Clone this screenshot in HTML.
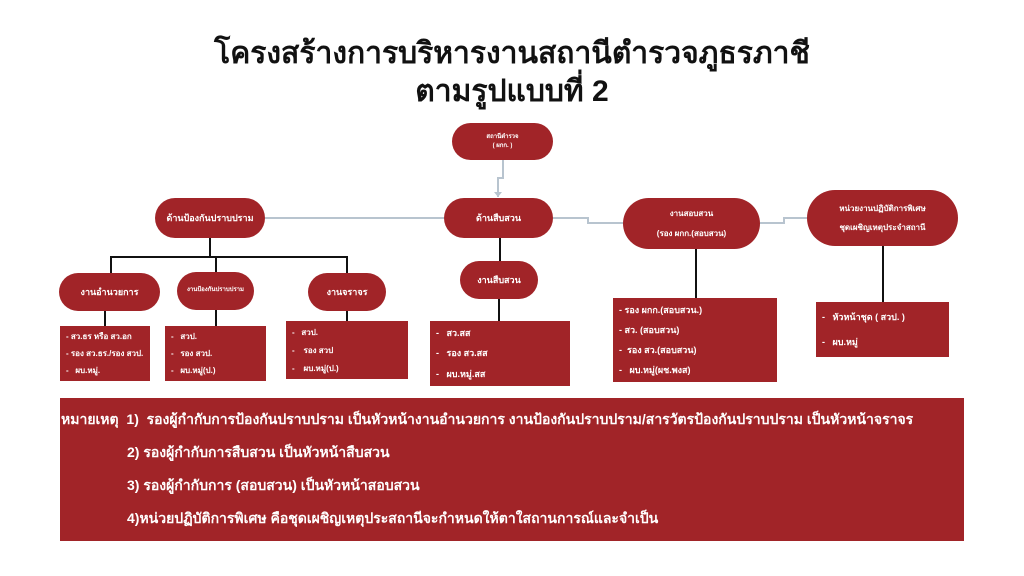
<!DOCTYPE html>
<html><head><meta charset="utf-8"><style>
body{margin:0;width:1024px;height:576px;background:#fff;position:relative;overflow:hidden;font-family:"Liberation Sans","Noto Sans CJK SC",sans-serif;}
.p{position:absolute;background:#a12428;border-radius:22px;color:#fff;font-weight:bold;display:flex;align-items:center;justify-content:center;text-align:center;font-size:9px;line-height:1.6;}
.b{position:absolute;background:#a12428;color:#fff;font-weight:bold;font-size:9px;box-sizing:border-box;padding:2px 6px;display:flex;flex-direction:column;justify-content:space-around;}
.l{position:absolute;background:#111;}
.g{position:absolute;background:#b8c4cf;}
.t{position:absolute;left:0;width:1024px;text-align:center;font-weight:bold;font-size:30px;color:#111;}
</style></head><body>
<div class="t" style="top:30px">โครงสร้างการบริหารงานสถานีตำรวจภูธรภาชี</div>
<div class="t" style="top:68px">ตามรูปแบบที่ 2</div>

<!-- grey connectors -->
<div class="g" style="left:502px;top:160px;width:2px;height:18px"></div>
<div class="g" style="left:497px;top:177px;width:7px;height:2px"></div>
<div class="g" style="left:497px;top:177px;width:2px;height:20px"></div>
<div style="position:absolute;left:494px;top:192px;width:0;height:0;border-left:4px solid transparent;border-right:4px solid transparent;border-top:5px solid #b8c4cf"></div>
<div class="g" style="left:265px;top:217px;width:179px;height:2px"></div>
<div class="g" style="left:553px;top:217px;width:35px;height:2px"></div>
<div class="g" style="left:587px;top:217px;width:2px;height:7px"></div>
<div class="g" style="left:588px;top:222px;width:35px;height:2px"></div>
<div class="g" style="left:760px;top:222px;width:24px;height:2px"></div>
<div class="g" style="left:783px;top:217px;width:2px;height:7px"></div>
<div class="g" style="left:783px;top:217px;width:25px;height:2px"></div>

<!-- black lines -->
<div class="l" style="left:209px;top:238px;width:2px;height:19px"></div>
<div class="l" style="left:110px;top:256px;width:238px;height:2px"></div>
<div class="l" style="left:110px;top:256px;width:2px;height:17px"></div>
<div class="l" style="left:215px;top:256px;width:2px;height:16px"></div>
<div class="l" style="left:346px;top:256px;width:2px;height:17px"></div>
<div class="l" style="left:104px;top:311px;width:2px;height:15px"></div>
<div class="l" style="left:215px;top:310px;width:2px;height:16px"></div>
<div class="l" style="left:346px;top:311px;width:2px;height:10px"></div>
<div class="l" style="left:499px;top:238px;width:2px;height:23px"></div>
<div class="l" style="left:498px;top:299px;width:2px;height:22px"></div>
<div class="l" style="left:695px;top:249px;width:2px;height:49px"></div>
<div class="l" style="left:882px;top:246px;width:2px;height:56px"></div>

<div class="p" style="left:452px;top:123px;width:101px;height:37px;font-size:6px;line-height:1.4">สถานีตำรวจ<br>( ผกก. )</div>
<div class="p" style="left:155px;top:198px;width:110px;height:40px">ด้านป้องกันปราบปราม</div>
<div class="p" style="left:444px;top:198px;width:109px;height:40px">ด้านสืบสวน</div>
<div class="p" style="left:623px;top:198px;width:137px;height:51px;border-radius:26px;font-size:8px;line-height:2.4">งานสอบสวน<br>(รอง ผกก.(สอบสวน)</div>
<div class="p" style="left:807px;top:190px;width:151px;height:56px;border-radius:28px;font-size:8px;line-height:2.4">หน่วยงานปฏิบัติการพิเศษ<br>ชุดเผชิญเหตุประจำสถานี</div>

<div class="p" style="left:59px;top:273px;width:101px;height:38px;border-radius:19px">งานอำนวยการ</div>
<div class="p" style="left:177px;top:272px;width:77px;height:38px;border-radius:19px;font-size:6px">งานป้องกันปราบปราม</div>
<div class="p" style="left:308px;top:273px;width:78px;height:38px;border-radius:19px">งานจราจร</div>
<div class="p" style="left:460px;top:261px;width:78px;height:38px;border-radius:19px">งานสืบสวน</div>

<div class="b" style="left:60px;top:326px;width:90px;height:55px;font-size:8px"><span>- สว.ธร หรือ สว.อก</span><span>- รอง สว.ธร./รอง สวป.</span><span>-&nbsp;&nbsp; ผบ.หมู่.</span></div>
<div class="b" style="left:165px;top:326px;width:101px;height:55px;font-size:8px"><span>-&nbsp;&nbsp; สวป.</span><span>-&nbsp;&nbsp; รอง สวป.</span><span>-&nbsp;&nbsp; ผบ.หมู่(ป.)</span></div>
<div class="b" style="left:286px;top:321px;width:122px;height:58px;font-size:8px"><span>-&nbsp;&nbsp; สวป.</span><span>-&nbsp;&nbsp;&nbsp; รอง สวป</span><span>-&nbsp;&nbsp;&nbsp; ผบ.หมู่(ป.)</span></div>
<div class="b" style="left:430px;top:321px;width:140px;height:65px"><span>-&nbsp;&nbsp; สว.สส</span><span>-&nbsp;&nbsp; รอง สว.สส</span><span>-&nbsp;&nbsp; ผบ.หมู่.สส</span></div>
<div class="b" style="left:613px;top:298px;width:164px;height:84px"><span>- รอง ผกก.(สอบสวน.)</span><span>- สว. (สอบสวน)</span><span>-&nbsp; รอง สว.(สอบสวน)</span><span>-&nbsp;&nbsp; ผบ.หมู่(ผช.พงส)</span></div>
<div class="b" style="left:816px;top:302px;width:133px;height:55px"><span>-&nbsp;&nbsp; หัวหน้าชุด ( สวป. )</span><span>-&nbsp;&nbsp; ผบ.หมู่</span></div>

<div class="b" style="left:60px;top:398px;width:904px;height:143px;font-size:14px;padding:6px 0 6px 1px;white-space:nowrap;overflow:hidden">
<span>หมายเหตุ&nbsp; 1)&nbsp; รองผู้กำกับการป้องกันปราบปราม เป็นหัวหน้างานอำนวยการ งานป้องกันปราบปราม/สารวัตรป้องกันปราบปราม เป็นหัวหน้าจราจร</span>
<span style="padding-left:66px">2) รองผู้กำกับการสืบสวน เป็นหัวหน้าสืบสวน</span>
<span style="padding-left:66px">3) รองผู้กำกับการ (สอบสวน) เป็นหัวหน้าสอบสวน</span>
<span style="padding-left:66px">4)หน่วยปฏิบัติการพิเศษ คือชุดเผชิญเหตุประสถานีจะกำหนดให้ตาใสถานการณ์และจำเป็น</span>
</div>
</body></html>
